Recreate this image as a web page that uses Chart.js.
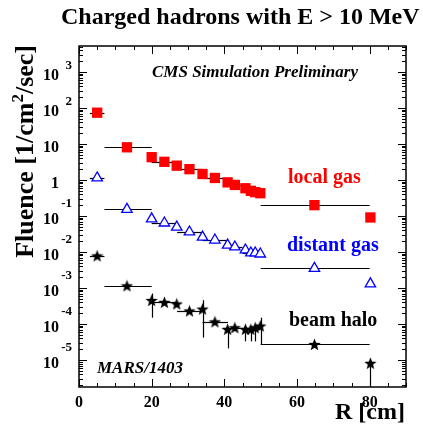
<!DOCTYPE html>
<html>
<head>
<meta charset="utf-8">
<script src="https://cdn.jsdelivr.net/npm/chart.js@4.4.0/dist/chart.umd.min.js"></script>
<style>
  html, body { margin: 0; padding: 0; background: #fff; }
  canvas { display: block; }
</style>
</head>
<body>
<canvas id="fluence_chart" width="423" height="436"></canvas>
<script>
// radius of each scoring point [cm] and its bin edges
const rCenters = [5, 13.2, 20, 23.5, 26.9, 30.4, 34, 37.4, 40.9, 42.9, 45.8, 47.3, 48.5, 49.9, 64.8, 80.2];
const binLow   = [3, 7, 20, 20, 26.9, 27, 34, 34, 40.9, 41, 45.8, 45, 48.5, 49.9, 50, 80.2];
const binHigh  = [7, 20, 20, 27, 26.9, 34, 34, 41, 40.9, 45, 45.8, 50, 48.5, 49.9, 80, 80.2];

// fluence [1/cm2/sec]
const localGas   = [74, 8.1, 4.3, 3.2, 2.5, 2.0, 1.47, 1.14, 0.86, 0.73, 0.59, 0.50, 0.46, 0.43, 0.20, 0.091];
const distantGas = [1.14, 0.153, 0.083, 0.064, 0.049, 0.036, 0.026, 0.0215, 0.0156, 0.0138, 0.0114, 0.0094, 0.0094, 0.0088, 0.0035, 0.0013];
const beamHalo   = [0.0078, 0.00115, 4.5e-4, 4.0e-4, 3.6e-4, 2.3e-4, 2.6e-4, 1.15e-4, 7.1e-5, 7.9e-5, 7.1e-5, 7.1e-5, 7.9e-5, 8.8e-5, 2.7e-5, 8.1e-6];
const haloErrLow  = [0.0078, 0.00115, 1.5e-4, 4.0e-4, 3.6e-4, 2.3e-4, 4.2e-5, 1.15e-4, 2.1e-5, 7.9e-5, 3.3e-5, 3.3e-5, 3.3e-5, 2.7e-5, 2.7e-5, 1e-7];
const haloErrHigh = [0.0078, 0.00115, 7.0e-4, 4.0e-4, 3.6e-4, 2.3e-4, 4.6e-4, 1.15e-4, 7.1e-5, 7.9e-5, 7.1e-5, 7.1e-5, 7.9e-5, 1.5e-4, 2.7e-5, 8.1e-6];

const xTickValues = [0, 20, 40, 60, 80];
const yTickValues = [1e3, 1e2, 10, 1, 1e-1, 1e-2, 1e-3, 1e-4, 1e-5];
const yTickBase = ['10', '10', '10', '1', '10', '10', '10', '10', '10'];
const yTickExp  = ['3', '2', '', '', '-1', '-2', '-3', '-4', '-5'];

const serif = '"Liberation Serif", "DejaVu Serif", serif';

function makeStar(size) {
    let c = document.createElement('canvas');
    c.width = size;
    c.height = size;
    let g = c.getContext('2d');
    g.fillStyle = '#000';
    g.beginPath();
    for (let i = 0; i < 10; i++) {
        let r = i % 2 ? size * 0.21 : size / 2;
        let a = -Math.PI / 2 + i * Math.PI / 5;
        g.lineTo(size / 2 + r * Math.cos(a), size / 2 + 0.5 + r * Math.sin(a));
    }
    g.closePath();
    g.fill();
    return c;
}

function toPoints(vals) {
    return rCenters.map((r, i) => ({ x: r, y: vals[i] }));
}

const errorBars = {
    id: 'errorBars',
    beforeDatasetsDraw(chart) {
        const { ctx, chartArea, scales: { x, y } } = chart;
        ctx.save();
        ctx.beginPath();
        ctx.rect(chartArea.left, chartArea.top, chartArea.right - chartArea.left, chartArea.bottom - chartArea.top);
        ctx.clip();
        ctx.strokeStyle = '#000';
        ctx.lineWidth = 1.2;
        [localGas, distantGas, beamHalo].forEach(vals => {
            rCenters.forEach((r, i) => {
                if (binLow[i] === binHigh[i]) return;
                let py = Math.round(y.getPixelForValue(vals[i])) + 0.5;
                ctx.beginPath();
                ctx.moveTo(x.getPixelForValue(binLow[i]), py);
                ctx.lineTo(x.getPixelForValue(binHigh[i]), py);
                ctx.stroke();
            });
        });
        rCenters.forEach((r, i) => {
            if (haloErrLow[i] === haloErrHigh[i]) return;
            let px = Math.round(x.getPixelForValue(i === 13 ? 50 : r)) + 0.5;
            ctx.beginPath();
            ctx.moveTo(px, y.getPixelForValue(haloErrLow[i]));
            ctx.lineTo(px, y.getPixelForValue(haloErrHigh[i]));
            ctx.stroke();
        });
        ctx.restore();
    }
};

function richText(ctx, parts, x, y) {
    // parts: [text, size, raise]
    let u = x;
    parts.forEach(p => {
        ctx.font = 'bold ' + p[1] + 'px ' + serif;
        ctx.fillText(p[0], u, y - p[2]);
        u += ctx.measureText(p[0]).width;
    });
    return u - x;
}

function richWidth(ctx, parts) {
    let w = 0;
    parts.forEach(p => {
        ctx.font = 'bold ' + p[1] + 'px ' + serif;
        w += ctx.measureText(p[0]).width;
    });
    return w;
}

const frameAndText = {
    id: 'frameAndText',
    afterDraw(chart) {
        const { ctx, chartArea: a, scales: { x, y } } = chart;
        ctx.save();
        ctx.strokeStyle = '#000';
        ctx.lineWidth = 1.5;
        ctx.strokeRect(a.left, a.top, a.right - a.left, a.bottom - a.top);

        ctx.lineWidth = 1;
        for (let v = 0; v <= 90; v += 5) {
            let px = Math.round(x.getPixelForValue(v)) + 0.5;
            let len = v % 20 === 0 ? 8 : 4;
            ctx.beginPath();
            ctx.moveTo(px, a.bottom); ctx.lineTo(px, a.bottom - len);
            ctx.moveTo(px, a.top); ctx.lineTo(px, a.top + len);
            ctx.stroke();
        }
        for (let k = -6; k <= 3; k++) {
            for (let m = 1; m <= 9; m++) {
                let v = m * Math.pow(10, k);
                if (v < y.min || v > y.max) continue;
                let py = Math.round(y.getPixelForValue(v)) + 0.5;
                let len = m === 1 ? 8 : 4;
                ctx.beginPath();
                ctx.moveTo(a.left, py); ctx.lineTo(a.left + len, py);
                ctx.moveTo(a.right, py); ctx.lineTo(a.right - len, py);
                ctx.stroke();
            }
        }

        ctx.fillStyle = '#000';
        ctx.textBaseline = 'alphabetic';

        // x tick labels
        ctx.font = 'bold 16px ' + serif;
        ctx.textAlign = 'center';
        xTickValues.forEach(v => ctx.fillText(String(v), x.getPixelForValue(v), 407));

        // y tick labels with exponents
        yTickValues.forEach((v, i) => {
            let py = y.getPixelForValue(v);
            ctx.textAlign = 'right';
            ctx.font = 'bold 16px ' + serif;
            ctx.fillText(yTickBase[i], 59, py + 8);
            if (yTickExp[i]) {
                ctx.font = 'bold 13px ' + serif;
                let raise = yTickExp[i][0] === '-' ? 9 : 3;
                ctx.fillText(yTickExp[i], 72, py - raise);
            }
        });

        // title
        ctx.textAlign = 'left';
        ctx.font = 'bold 24px ' + serif;
        ctx.fillText('Charged hadrons with E > 10 MeV', 61, 24);

        // axis titles
        ctx.font = 'bold 24px ' + serif;
        ctx.textAlign = 'right';
        ctx.fillText('R [cm]', 405, 419);

        ctx.textAlign = 'left';
        let yParts = [['Fluence [1/cm', 26, 0], ['2', 17, 10], ['/sec]', 26, 0]];
        let w = richWidth(ctx, yParts);
        ctx.save();
        ctx.translate(33, 45);
        ctx.rotate(-Math.PI / 2);
        richText(ctx, yParts, -w, 0);
        ctx.restore();

        // annotations
        ctx.font = 'italic bold 17px ' + serif;
        ctx.fillText('CMS Simulation Preliminary', 152, 77);
        ctx.font = 'italic bold 17px ' + serif;
        ctx.fillText('MARS/1403', 97, 373);

        ctx.font = 'bold 20px ' + serif;
        ctx.fillStyle = '#ff0000';
        ctx.fillText('local gas', 288, 183);
        ctx.fillStyle = '#0000ff';
        ctx.fillText('distant gas', 287, 251);
        ctx.fillStyle = '#000';
        ctx.fillText('beam halo', 289, 326);
        ctx.restore();
    }
};

const ctx = document.getElementById('fluence_chart').getContext('2d');

new Chart(ctx, {
    type: 'scatter',
    data: {
        datasets: [{
            label: 'local gas',
            data: toPoints(localGas),
            pointStyle: 'rect',
            pointRadius: 7.3,
            backgroundColor: '#ff0000',
            borderColor: '#ff0000',
            borderWidth: 0
        }, {
            label: 'distant gas',
            data: toPoints(distantGas),
            pointStyle: 'triangle',
            pointRadius: 6,
            backgroundColor: '#ffffff',
            borderColor: '#0000ff',
            borderWidth: 1.3
        }, {
            label: 'beam halo',
            data: toPoints(beamHalo),
            pointStyle: makeStar(13),
            backgroundColor: '#000',
            borderColor: '#000'
        }]
    },
    options: {
        responsive: false,
        animation: false,
        devicePixelRatio: 1,
        layout: { padding: { top: 46, right: 17, left: 0, bottom: 0 } },
        plugins: {
            legend: { display: false },
            tooltip: { enabled: false }
        },
        scales: {
            x: {
                type: 'linear',
                min: 0,
                max: 90,
                ticks: { display: false },
                grid: { display: false },
                border: { display: false },
                afterFit: s => { s.height = 49; }
            },
            y: {
                type: 'logarithmic',
                min: 1.78e-6,
                max: 5270,
                ticks: { display: false },
                grid: { display: false },
                border: { display: false },
                afterFit: s => { s.width = 79; }
            }
        }
    },
    plugins: [errorBars, frameAndText]
});
</script>
</body>
</html>
